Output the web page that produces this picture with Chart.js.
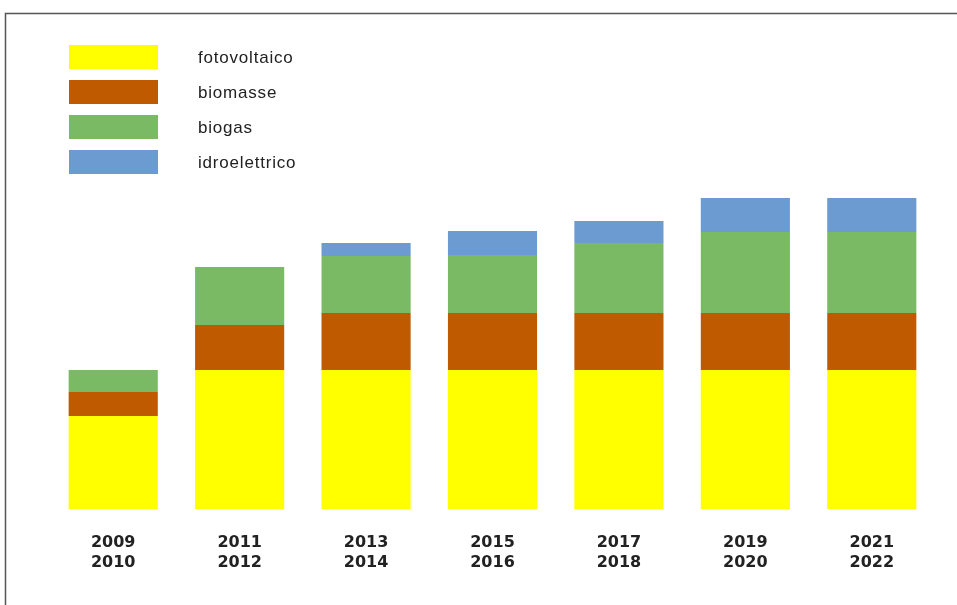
<!DOCTYPE html>
<html>
<head>
<meta charset="utf-8">
<script src="https://cdn.jsdelivr.net/npm/chart.js@4/dist/chart.umd.min.js"></script>
<style>
  html, body { margin: 0; padding: 0; background: #fff; }
  #wrap { position: relative; width: 957px; height: 605px; }
</style>
</head>
<body>
<div id="wrap"><canvas id="chart" width="957" height="605"></canvas></div>
<script>
const periods = [['2009', '2010'], ['2011', '2012'], ['2013', '2014'], ['2015', '2016'],
  ['2017', '2018'], ['2019', '2020'], ['2021', '2022']];
const seriesNames = ['fotovoltaico', 'biomasse', 'biogas', 'idroelettrico'];
const fotovoltaico = [93, 139, 139, 139, 139, 139, 139];
const biomasse = [24, 45, 57, 57, 57, 57, 57];
const biogas = [22, 58, 57, 58, 70, 81, 81];
const idroelettrico = [0, 0, 13, 24, 22, 34, 34];
const colors = ['#ffff00', '#c05a00', '#7aba64', '#6c9bd2'];

// legend drawn top-left, boxes + labels taken from the datasets
const boxLegend = {
  id: 'boxLegend',
  afterDraw(chart) {
    const ctx = chart.ctx;
    ctx.save();
    ctx.font = '17px "Liberation Sans", Arial, sans-serif';
    ctx.letterSpacing = '0.8px';
    ctx.textBaseline = 'middle';
    chart.data.datasets.forEach((ds, i) => {
      const y = 45 + i * 35;
      ctx.fillStyle = ds.backgroundColor;
      ctx.fillRect(69, y, 89, 24);
      ctx.fillStyle = '#222';
      ctx.fillText(ds.label, 198, y + 13);
    });
    ctx.restore();
  },
};

// thin frame on top and left edge like the original picture
const frame = {
  id: 'frame',
  beforeDraw(chart) {
    const ctx = chart.ctx;
    ctx.save();
    ctx.strokeStyle = '#555';
    ctx.lineWidth = 1.5;
    ctx.beginPath();
    ctx.moveTo(957, 13.5);
    ctx.lineTo(5.5, 13.5);
    ctx.lineTo(5.5, 605);
    ctx.stroke();
    ctx.restore();
  },
};

const values = [fotovoltaico, biomasse, biogas, idroelettrico];

new Chart(document.getElementById('chart'), {
  type: 'bar',
  data: {
    labels: periods,
    datasets: seriesNames.map((name, i) => ({
      label: name,
      data: values[i],
      backgroundColor: colors[i],
      borderWidth: 0,
      barPercentage: 0.705,
      categoryPercentage: 1,
    })),
  },
  options: {
    responsive: false,
    animation: false,
    layout: { padding: { left: 50, right: 22, top: 20, bottom: 0 } },
    plugins: {
      legend: { display: false },
      tooltip: { enabled: false },
    },
    scales: {
      x: {
        stacked: true,
        grid: { display: false, drawTicks: false },
        border: { display: false },
        ticks: {
          padding: 24,
          color: '#222',
          font: { family: '"DejaVu Sans", sans-serif', size: 16, weight: 'bold', lineHeight: 1.25 },
        },
        afterFit(axis) { axis.height = 96; },
      },
      y: {
        stacked: true,
        display: false,
        min: 0,
        max: 489,
      },
    },
  },
  plugins: [frame, boxLegend],
});
</script>
</body>
</html>
